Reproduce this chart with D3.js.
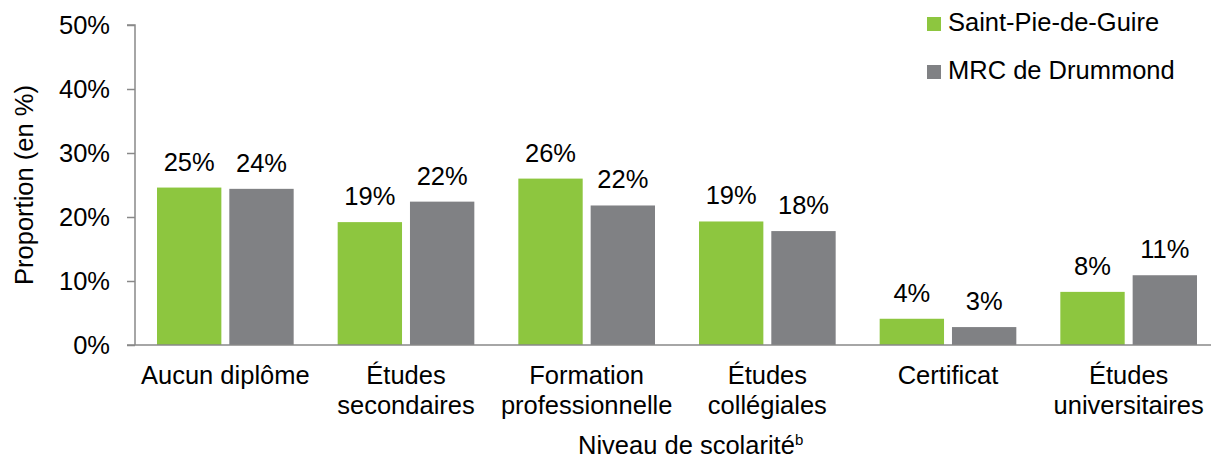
<!DOCTYPE html>
<html>
<head>
<meta charset="utf-8">
<script src="https://cdn.jsdelivr.net/npm/d3@7"></script>
<style>
  body { margin: 0; background: #fff; }
  svg text { font-family: "Liberation Sans", Arial, sans-serif; fill: #000; }
</style>
</head>
<body>
<svg id="chart"></svg>
<script>
const categories = [
  ["Aucun diplôme"],
  ["Études", "secondaires"],
  ["Formation", "professionnelle"],
  ["Études", "collégiales"],
  ["Certificat"],
  ["Études", "universitaires"]
];
const seriesNames = ["Saint-Pie-de-Guire", "MRC de Drummond"];
const saintPie = [24.6, 19.2, 26.0, 19.3, 4.1, 8.3];
const mrc = [24.4, 22.4, 21.8, 17.8, 2.8, 10.9];
const yTicks = [0, 10, 20, 30, 40, 50];

const width = 1211, height = 460;
const margin = {top: 25, right: -8, bottom: 115, left: 135};
const colors = ["#8dc63f", "#808184"];
const fs = "25.5px";

const svg = d3.select("#chart").attr("width", width).attr("height", height);
const g = svg.append("g").attr("transform", `translate(${margin.left}, ${margin.top})`);

const innerW = width - margin.left - margin.right;
const innerH = height - margin.top - margin.bottom;

const x0 = d3.scaleBand().domain(d3.range(categories.length)).range([0, innerW]).paddingInner(0).paddingOuter(0);
const x1 = d3.scaleBand().domain([0, 1]).range([22, x0.bandwidth() - 22]).paddingInner(0.11);
const y = d3.scaleLinear().domain([0, 50]).range([innerH, 0]);

// axe y
const yaxis = d3.axisLeft(y).tickValues(yTicks).tickFormat(d => d + "%").tickSize(8).tickPadding(17);
const ya = g.append("g").call(yaxis);
ya.select(".domain").attr("stroke", "#898989").attr("stroke-width", 1.5).attr("d", `M-8,0H0V${innerH}`);
ya.selectAll(".tick line").attr("stroke", "#898989").attr("stroke-width", 1.5);
ya.selectAll(".tick text").attr("font-size", fs).attr("dy", "0.35em");

g.append("text")
  .attr("transform", "rotate(-90)")
  .attr("x", -innerH / 2)
  .attr("y", -102)
  .attr("text-anchor", "middle")
  .attr("font-size", fs)
  .text("Proportion (en %)");

// barres
const series = [saintPie, mrc];
series.forEach((vals, s) => {
  g.selectAll(".bar" + s).data(vals).enter().append("rect")
    .attr("x", (d, i) => x0(i) + x1(s))
    .attr("y", d => y(d))
    .attr("width", x1.bandwidth())
    .attr("height", d => innerH - y(d))
    .attr("fill", colors[s]);

  g.selectAll(".lab" + s).data(vals).enter().append("text")
    .attr("x", (d, i) => x0(i) + x1(s) + x1.bandwidth() / 2)
    .attr("y", d => y(d) - 17)
    .attr("text-anchor", "middle")
    .attr("font-size", fs)
    .text(d => Math.round(d) + "%");
});

// axe x
g.append("line")
  .attr("x1", -8).attr("x2", innerW)
  .attr("y1", innerH).attr("y2", innerH)
  .attr("stroke", "#898989").attr("stroke-width", 1.5);

categories.forEach((lines, i) => {
  const t = g.append("text")
    .attr("text-anchor", "middle")
    .attr("font-size", fs);
  lines.forEach((l, k) => {
    t.append("tspan")
      .attr("x", x0(i) + x0.bandwidth() / 2)
      .attr("y", innerH + 39 + k * 30)
      .text(l);
  });
});

const xt = g.append("text")
  .attr("x", 443)
  .attr("y", innerH + 109)
  .attr("font-size", fs)
  .text("Niveau de scolarité");
xt.append("tspan").attr("font-size", "15px").attr("dy", "-9").text("b");

// légende
const legend = svg.append("g").attr("transform", "translate(927, 17)");
seriesNames.forEach((name, i) => {
  legend.append("rect")
    .attr("x", 0).attr("y", i * 48)
    .attr("width", 14).attr("height", 14)
    .attr("fill", colors[i]);
  legend.append("text")
    .attr("x", 21).attr("y", i * 48 + 14)
    .attr("font-size", fs)
    .text(name);
});
</script>
</body>
</html>
